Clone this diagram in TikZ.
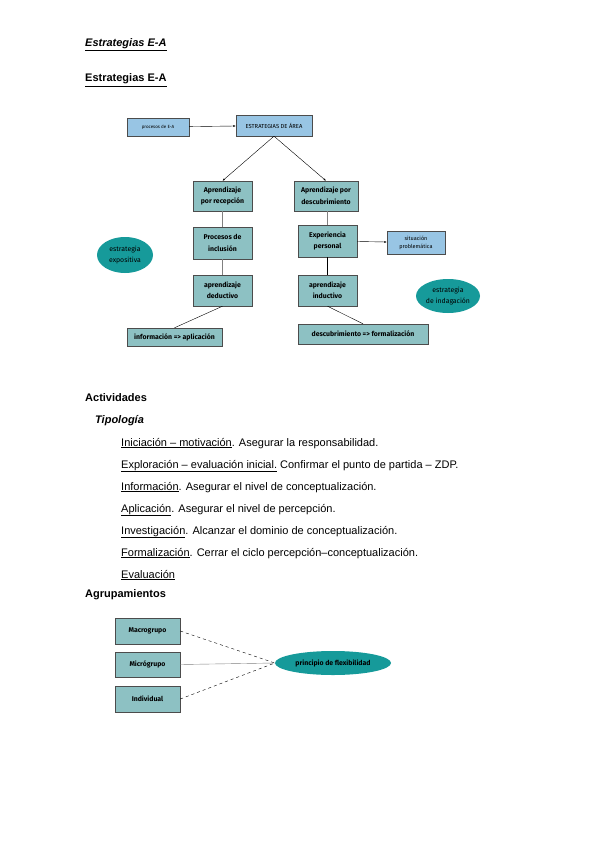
\documentclass[tikz,border=0pt]{standalone}
\usepackage{fontspec}
\setmainfont{Liberation Sans}
\newfontfamily\cajafont{Fira Sans}
\usetikzlibrary{shapes.geometric,arrows.meta}
\definecolor{verdecaja}{RGB}{141,193,195}
\definecolor{azulcaja}{RGB}{152,197,228}
\definecolor{turquesa}{RGB}{22,154,154}
\tikzset{
  cajaverde/.style={draw=black!70,fill=verdecaja,align=center,inner sep=1pt,font=\cajafont\bfseries\fontsize{6.9}{11.5}\selectfont},
  cajaazul/.style={draw=black!70,fill=azulcaja,align=center,inner sep=1pt,font=\cajafont\fontsize{4.5}{7}\selectfont},
  elipse/.style={ellipse,fill=turquesa,align=center,inner sep=0pt,font=\cajafont\fontsize{6.9}{11.5}\selectfont},
  texto/.style={anchor=base west,inner sep=0pt,font=\fontsize{11}{13}\selectfont},
  flecha/.style={-{Latex[length=2.5pt,width=2pt]}},
}
\begin{document}
\begin{tikzpicture}[x=1pt,y=-1pt]
\useasboundingbox[fill=white] (0,0) rectangle (599,848);
% Titulos
\node[texto] (titulo) at (85,47) {\textbf{\textit{\underline{Estrategias E-A}}}};
\node[texto] (subtitulo) at (85,82) {\textbf{\underline{Estrategias E-A}}};

% Cajas
\node[cajaazul,minimum width=62,minimum height=18] (procesos) at (158,127) {procesos de E-A};
\node[cajaazul,minimum width=76,minimum height=21,font=\cajafont\fontsize{5.8}{7}\selectfont] (area) at (274,125.5) {ESTRATEGIAS DE ÁREA};
\node[cajaverde,minimum width=59,minimum height=30] (recepcion) at (222.5,196) {Aprendizaje\\por recepción};
\node[cajaverde,minimum width=64,minimum height=30] (descubrimiento) at (326,196) {Aprendizaje por\\descubrimiento};
\node[cajaverde,minimum width=59,minimum height=32] (inclusion) at (222.5,243) {Procesos de\\inclusión};
\node[cajaverde,minimum width=59,minimum height=32] (experiencia) at (327.5,241) {Experiencia\\personal};
\node[cajaazul,minimum width=58,minimum height=23,font=\cajafont\fontsize{5.5}{8}\selectfont] (situacion) at (416,242.5) {situación\\problemática};
\node[cajaverde,minimum width=59,minimum height=31] (deductivo) at (222.5,290.5) {aprendizaje\\deductivo};
\node[cajaverde,minimum width=59,minimum height=31] (inductivo) at (327.5,290.5) {aprendizaje\\inductivo};
\node[cajaverde,minimum width=95,minimum height=18] (aplicacion) at (174.5,337) {información => aplicación};
\node[cajaverde,minimum width=130,minimum height=20] (formalizacion) at (363,334) {descubrimiento => formalización};
\node[elipse,minimum width=56,minimum height=36] (expositiva) at (125,255) {estrategia\\expositiva};
\node[elipse,minimum width=64,minimum height=34] (indagacion) at (448,296) {estrategia\\de indagación};

% Conectores
\draw[flecha] (procesos) -- (area);
\draw[flecha] (area.south) -- (recepcion.north);
\draw[flecha] (area.south) -- (descubrimiento.north);
\draw[gray] (recepcion) -- (inclusion);
\draw[gray] (inclusion) -- (deductivo);
\draw (deductivo.south) -- (aplicacion.north);
\draw[gray] (descubrimiento.south -| experiencia) -- (experiencia);
\draw (experiencia) -- (inductivo);
\draw (inductivo.south) -- (formalizacion.north);
\draw[flecha] (experiencia) -- (situacion);

% Actividades
\node[texto] (actividades) at (85,401) {\textbf{Actividades}};
\node[texto] (tipologia) at (95,423) {\textbf{\textit{Tipología}}};
\node[texto] (iniciacion) at (121,446) {\underline{Iniciación – motivación}. Asegurar la responsabilidad.};
\node[texto] (exploracion) at (121,468) {\underline{Exploración – evaluación inicial.} Confirmar el punto de partida – ZDP.};
\node[texto] (informacion) at (121,490) {\underline{Información}. Asegurar el nivel de conceptualización.};
\node[texto] (aplicacionT) at (121,512) {\underline{Aplicación}. Asegurar el nivel de percepción.};
\node[texto] (investigacion) at (121,534) {\underline{Investigación}. Alcanzar el dominio de conceptualización.};
\node[texto] (formalizacionT) at (121,556) {\underline{Formalización}. Cerrar el ciclo percepción–conceptualización.};
\node[texto] (evaluacion) at (121,578) {\underline{Evaluación}};

% Agrupamientos
\node[texto] (agrupamientos) at (85,597) {\textbf{Agrupamientos}};
\node[cajaverde,minimum width=65,minimum height=26] (macro) at (147.5,631) {Macrogrupo};
\node[cajaverde,minimum width=65,minimum height=25] (micro) at (147.5,664.5) {Micrógrupo};
\node[cajaverde,minimum width=65,minimum height=26] (individual) at (147.5,699) {Individual};
\node[elipse,minimum width=116,minimum height=24,font=\cajafont\bfseries\fontsize{6.9}{11}\selectfont] (flexibilidad) at (333,663) {principio de flexibilidad};
\draw[dashed] (macro.east) -- (flexibilidad.west);
\draw[gray] (micro.east) -- (flexibilidad.west);
\draw[dashed] (individual.east) -- (flexibilidad.west);
\end{tikzpicture}
\end{document}
